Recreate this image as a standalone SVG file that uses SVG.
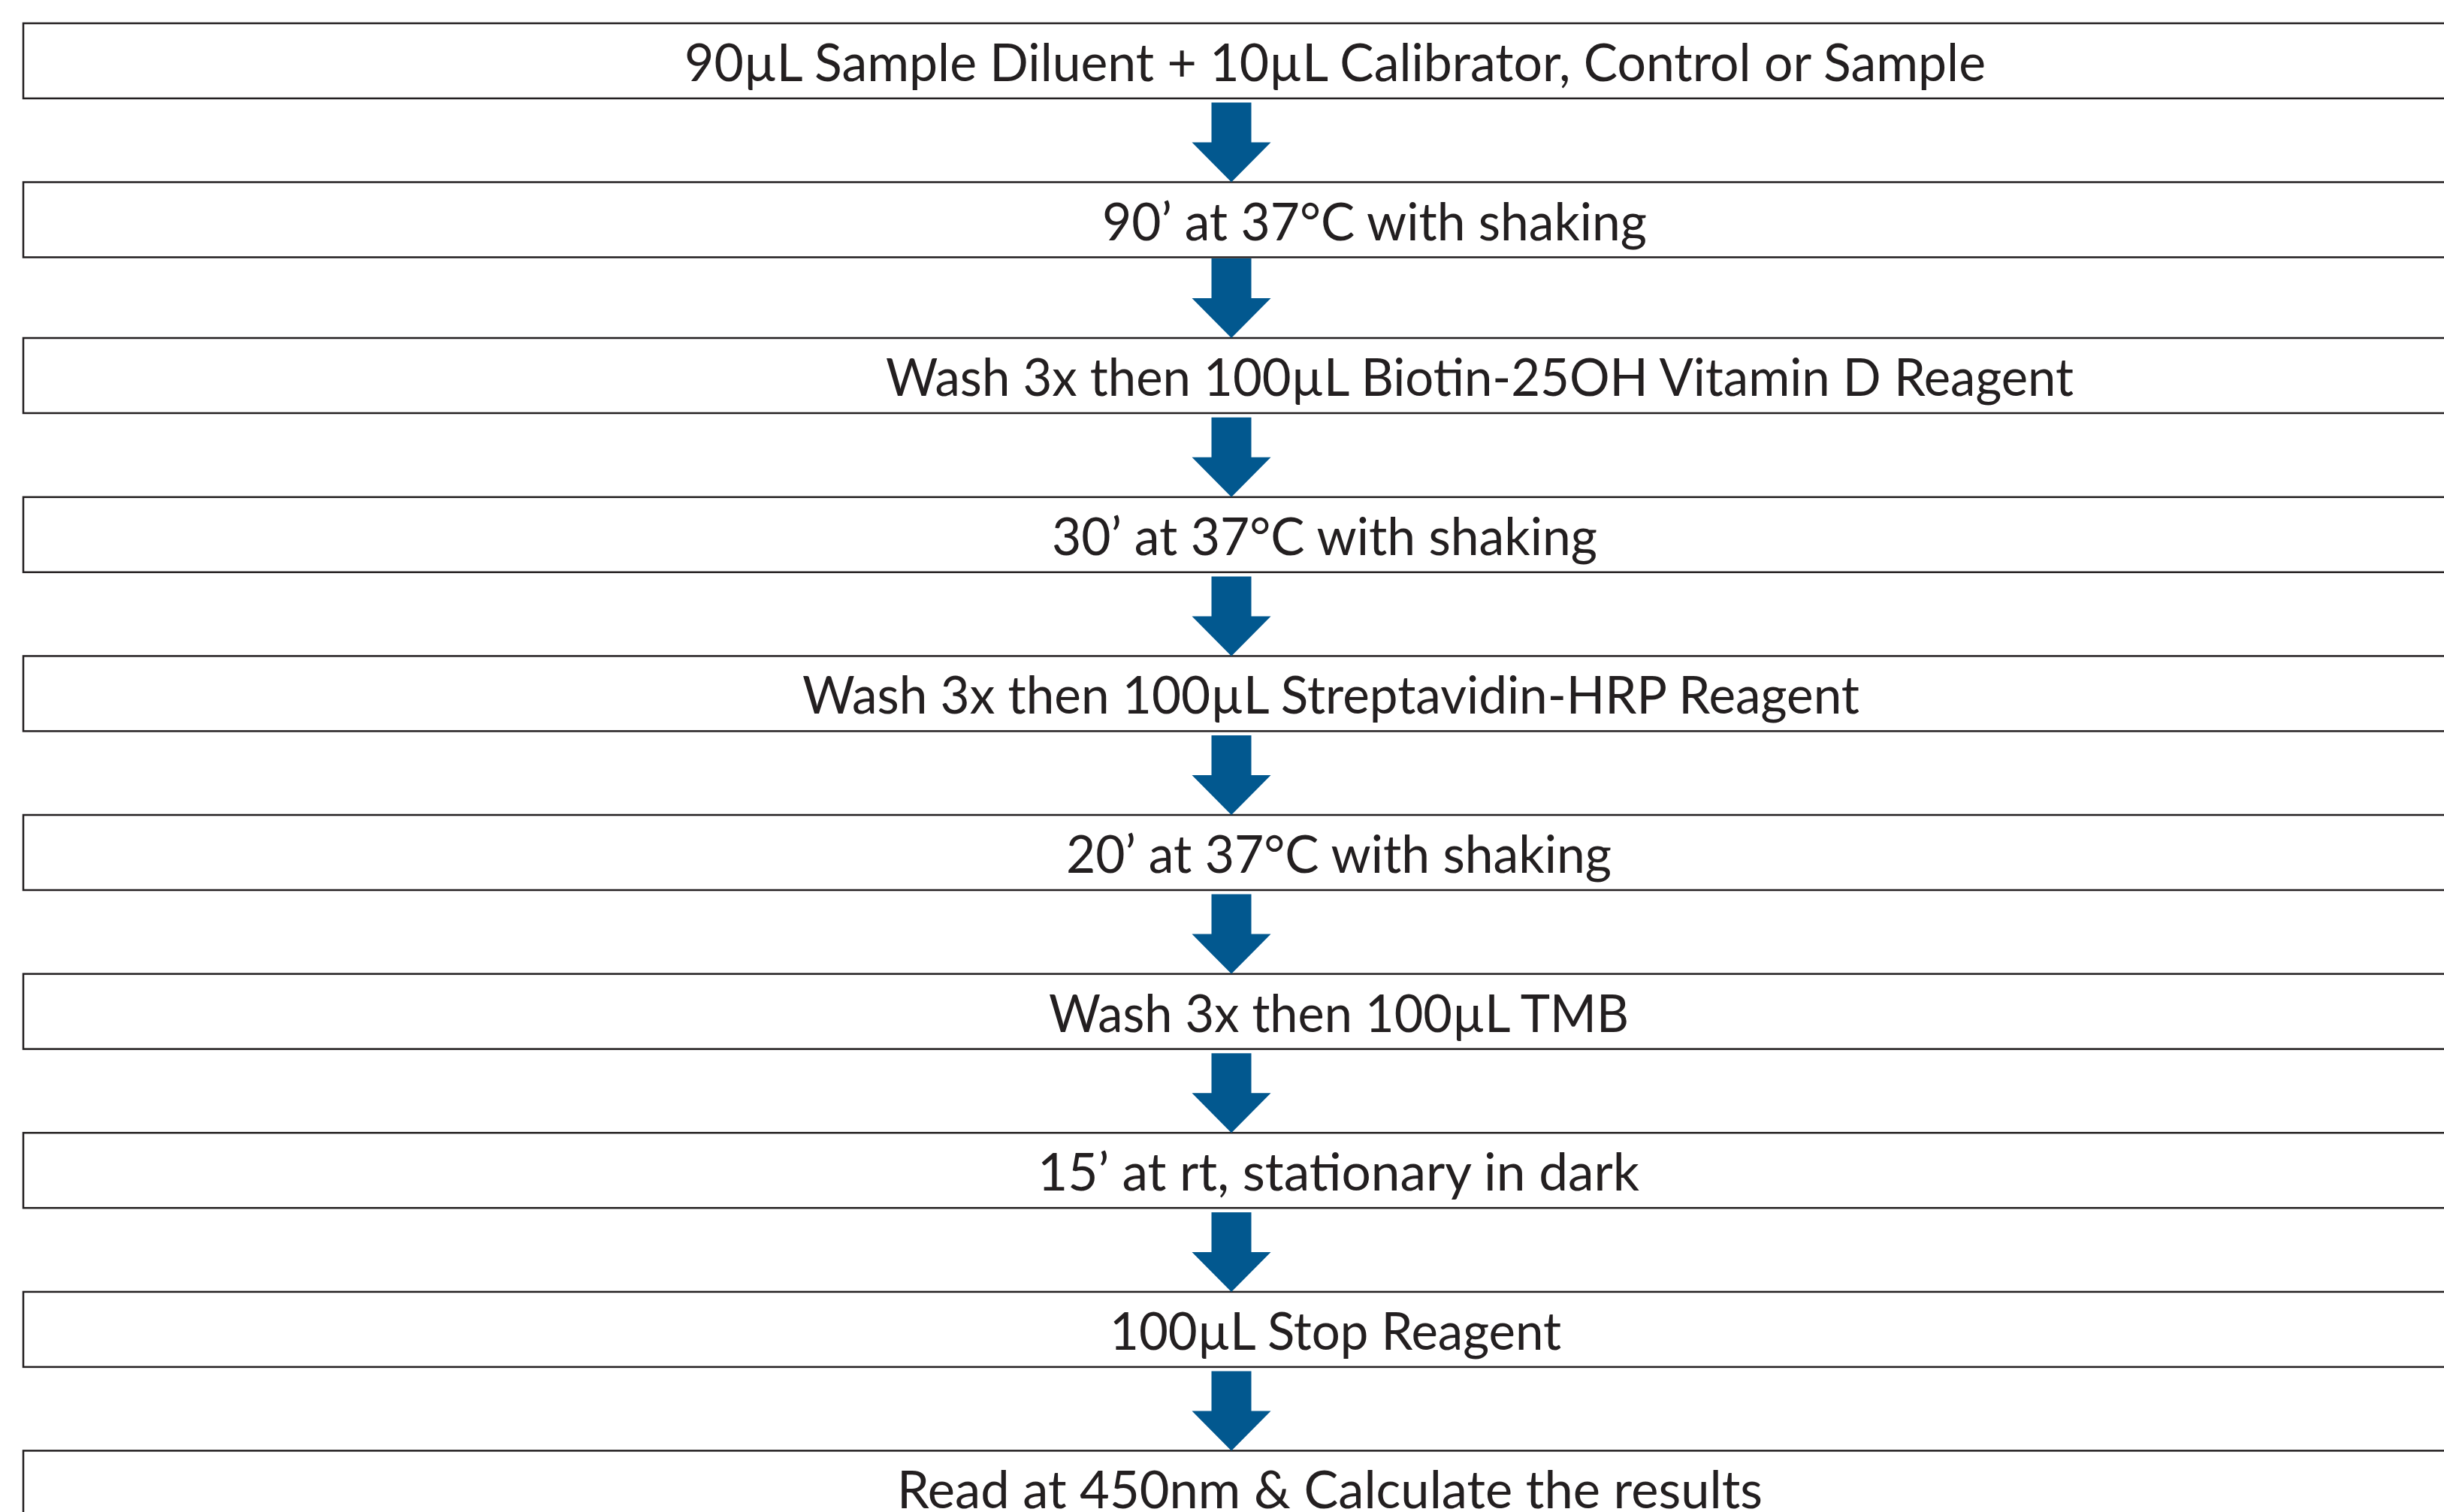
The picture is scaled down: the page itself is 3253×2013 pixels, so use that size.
<svg xmlns="http://www.w3.org/2000/svg" xmlns:xlink="http://www.w3.org/1999/xlink" width="3253" height="2013" viewBox="0 0 3253 2013">
<style>
.box{fill:#ffffff;stroke:#231f20;stroke-width:2.5}
.lbl{font-family:Lato,"Open Sans","Liberation Sans",sans-serif;font-size:70px;fill:#231f20}
.arr{fill:#02588f}
</style>
<defs>
<path id="ar" d="M-26.5,-106 H26.5 V-53 H52.5 L0,0 L-52.5,-53 H-26.5 Z"/>
</defs>
<rect width="3253" height="2013" fill="#ffffff"/>
<g id="n1"><rect class="box" x="31" y="31" width="3240" height="100"/><text class="lbl" x="911" y="108" textLength="1732" lengthAdjust="spacingAndGlyphs">90µL Sample Diluent + 10µL Calibrator, Control or Sample</text></g>
<g id="n2"><rect class="box" x="31" y="242.5" width="3240" height="100"/><text class="lbl" x="1467" y="319.5" textLength="725" lengthAdjust="spacingAndGlyphs">90’ at 37°C with shaking</text></g>
<g id="n3"><rect class="box" x="31" y="450" width="3240" height="100"/><text class="lbl" x="1179" y="527" textLength="1581" lengthAdjust="spacingAndGlyphs">Wash 3x then 100µL Biotin-25OH Vitamin D Reagent</text></g>
<g id="n4"><rect class="box" x="31" y="661.8" width="3240" height="100"/><text class="lbl" x="1400" y="738.8" textLength="726" lengthAdjust="spacingAndGlyphs">30’ at 37°C with shaking</text></g>
<g id="n5"><rect class="box" x="31" y="873.4" width="3240" height="100"/><text class="lbl" x="1068" y="950.4" textLength="1407" lengthAdjust="spacingAndGlyphs">Wash 3x then 100µL Streptavidin-HRP Reagent</text></g>
<g id="n6"><rect class="box" x="31" y="1085" width="3240" height="100"/><text class="lbl" x="1419" y="1162" textLength="726" lengthAdjust="spacingAndGlyphs">20’ at 37°C with shaking</text></g>
<g id="n7"><rect class="box" x="31" y="1296.6" width="3240" height="100"/><text class="lbl" x="1396" y="1373.6" textLength="772" lengthAdjust="spacingAndGlyphs">Wash 3x then 100µL TMB</text></g>
<g id="n8"><rect class="box" x="31" y="1508.2" width="3240" height="100"/><text class="lbl" x="1381" y="1585.2" textLength="801" lengthAdjust="spacingAndGlyphs">15’ at rt, stationary in dark</text></g>
<g id="n9"><rect class="box" x="31" y="1719.9" width="3240" height="100"/><text class="lbl" x="1477" y="1796.9" textLength="601" lengthAdjust="spacingAndGlyphs">100µL Stop Reagent</text></g>
<g id="n10"><rect class="box" x="31" y="1931.4" width="3240" height="100"/><text class="lbl" x="1194" y="2008.4" textLength="1152" lengthAdjust="spacingAndGlyphs">Read at 450nm &amp; Calculate the results</text></g>
<g id="connectors" class="arr">
<use xlink:href="#ar" x="1639" y="242.5"/>
<use xlink:href="#ar" x="1639" y="450"/>
<use xlink:href="#ar" x="1639" y="661.8"/>
<use xlink:href="#ar" x="1639" y="873.4"/>
<use xlink:href="#ar" x="1639" y="1085"/>
<use xlink:href="#ar" x="1639" y="1296.6"/>
<use xlink:href="#ar" x="1639" y="1508.2"/>
<use xlink:href="#ar" x="1639" y="1719.9"/>
<use xlink:href="#ar" x="1639" y="1931.4"/>
</g>
</svg>
